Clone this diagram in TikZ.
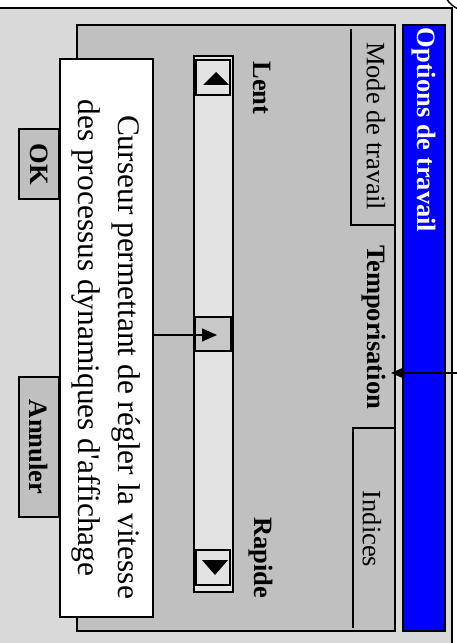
\documentclass[tikz,border=0pt]{standalone}
\usepackage{fontspec}
\setmainfont{Liberation Serif}
\usetikzlibrary{arrows.meta}
\definecolor{framegray}{HTML}{D9D9D9}
\definecolor{panelgray}{HTML}{C0C0C0}
\definecolor{trackgray}{HTML}{E3E3E3}
\definecolor{thumbgray}{HTML}{C8C8C8}
\definecolor{titleblue}{HTML}{0000FF}
\tikzset{
  box/.style={draw=black, line width=1.4bp, inner sep=0pt, outer sep=0pt, rectangle},
  lbl/.style={rotate=-90, inner sep=0pt, font=\fontsize{26.5bp}{30bp}\selectfont},
  lblb/.style={lbl, font=\fontsize{26.5bp}{30bp}\selectfont\bfseries},
  callt/.style={rotate=-90, inner sep=0pt, font=\fontsize{31.4bp}{38bp}\selectfont},
  tipA/.style={-{Triangle[length=13bp,width=11bp]}},
  tabline/.style={line width=1.4bp}
}
\begin{document}
\begin{tikzpicture}[x=1bp,y=-1bp, line width=1.4bp]
\useasboundingbox (0,0) rectangle (457,643);
% outer frame
\node[box, fill=framegray, minimum width=462bp, minimum height=652bp] (frame) at (221,334) {};
% panel
\node[box, fill=panelgray, minimum width=318bp, minimum height=606bp] (panel) at (236,328) {};
% title bar
\node[box, fill=titleblue, minimum width=42bp, minimum height=606bp] (titlebar) at (424,328) {};
\node[lblb, text=white] (title) at (424,130) {Options de travail};
% tabs
\coordinate (m1) at (351,29);
\coordinate (m2) at (351,225);
\coordinate (m3) at (395,225);
\draw[tabline] (m1) -- (m2) -- (m3);
\coordinate (i1) at (395,428);
\coordinate (i2) at (353,428);
\coordinate (i3) at (353,628);
\draw[tabline] (i1) -- (i2) -- (i3);
\node[lbl] (tabmode) at (376,126) {Mode de travail};
\node[lblb] (tabtemp) at (374,327) {Temporisation};
\node[lbl] (tabind) at (372,529) {Indices};
% labels
\node[lblb] (lent) at (262,88) {Lent};
\node[lblb] (rapide) at (261,558) {Rapide};
% scrollbar
\node[box, fill=trackgray, minimum width=39bp, minimum height=536bp] (track) at (213.5,324) {};
\node[box, fill=trackgray, minimum width=34bp, minimum height=35bp] (up) at (213,77.5) {};
\node[box, fill=trackgray, minimum width=34bp, minimum height=35bp] (down) at (213,567.5) {};
\node[box, fill=thumbgray, minimum width=36bp, minimum height=34bp] (thumb) at (213,334) {};
\fill (216,72) -- (203,85) -- (229,85) -- cycle;
\fill (215,575) -- (202,560) -- (228,560) -- cycle;
% callout
\node[box, fill=white, minimum width=93bp, minimum height=558bp] (callout) at (106.5,338) {};
\node[callt] (cl1) at (126,357) {Curseur permettant de régler la vitesse};
\node[callt] (cl2) at (86,338) {des processus dynamiques d\textquotesingle affichage};
\coordinate (thumbtip) at (217,335);
\draw[-{Triangle[length=15bp,width=13bp]}] (callout.east |- thumbtip) -- (thumbtip);
% buttons
\node[box, fill=panelgray, minimum width=40bp, minimum height=70bp] (ok) at (39,164) {};
\node[lblb] (oktext) at (39,164) {OK};
\node[box, fill=panelgray, minimum width=40bp, minimum height=140bp] (annuler) at (39,447) {};
\node[lblb] (anntext) at (39,447) {Annuler};
% arrow to Temporisation tab
\coordinate (tstart) at (470,373);
\coordinate (ttip) at (391,373);
\draw[tipA] (tstart) -- (ttip);
% top-right curve
\coordinate (c1) at (446,-2);
\coordinate (c2) at (458,9);
\draw (c1) to[bend right=15] (c2);
\end{tikzpicture}
\end{document}
